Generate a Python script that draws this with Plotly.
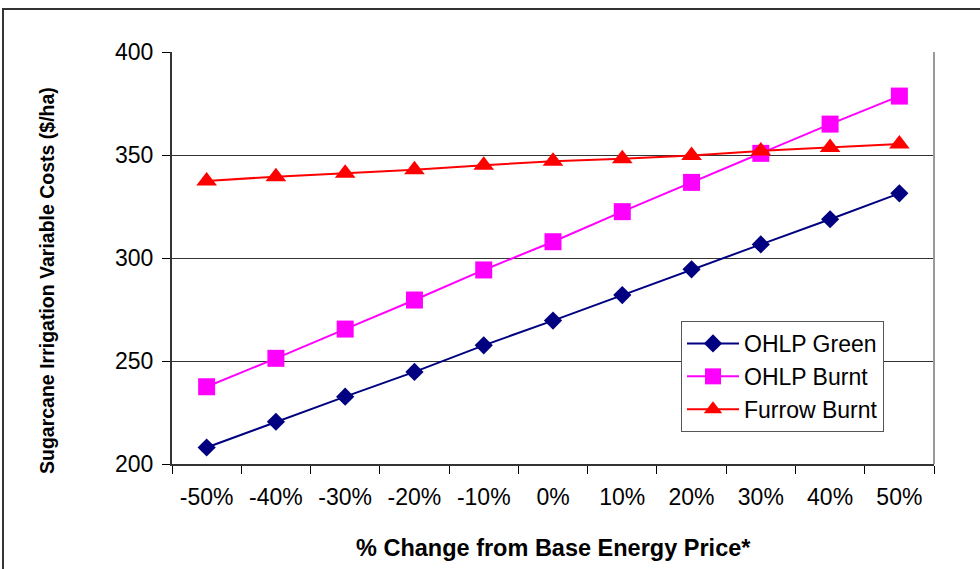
import plotly.graph_objects as go

# Energy price scenarios (category axis)
price_change = ["-50%", "-40%", "-30%", "-20%", "-10%", "0%",
                "10%", "20%", "30%", "40%", "50%"]

# Irrigation variable costs ($/ha) per system
ohlp_green = [208, 220.5, 232.7, 244.7, 257.6, 269.6, 282, 294.5, 306.6, 318.8, 331.4]
ohlp_burnt = [237.5, 251.3, 265.5, 279.6, 294.2, 307.9, 322.5, 336.7, 350.8, 365, 378.6]
furrow_burnt = [337.4, 339.5, 341.1, 342.8, 345, 347, 348.2, 349.8, 352, 353.7, 355.3]

y_ticks = [200, 250, 300, 350, 400]

W, H = 980, 569
M_L, M_R, M_T, M_B = 172, 46, 52, 105
PW, PH = W - M_L - M_R, H - M_T - M_B
FONT = "Liberation Sans, Arial, sans-serif"


def px_x(px):
    """Horizontal page pixel -> paper coordinate."""
    return (px - M_L) / PW


def px_y(py):
    """Vertical page pixel (from top) -> paper coordinate."""
    return (H - M_B - py) / PH


fig = go.Figure()

series = [
    ("OHLP Green", ohlp_green, "#000080", "diamond", 14),
    ("OHLP Burnt", ohlp_burnt, "#FF00FF", "square", 17),
    ("Furrow Burnt", furrow_burnt, "#FF0000", "triangle-up", 18),
]
for name, vals, color, symbol, size in series:
    fig.add_trace(go.Scatter(
        x=price_change, y=vals, name=name, mode="lines+markers",
        line=dict(color=color, width=2),
        marker=dict(symbol=symbol, size=size, color=color,
                    line=dict(width=0)),
    ))

fig.update_layout(
    width=W, height=H,
    margin=dict(l=M_L, r=M_R, t=M_T, b=M_B),
    paper_bgcolor="white", plot_bgcolor="white",
    font=dict(family=FONT, color="black", size=22),
    legend=dict(
        x=px_x(681), y=px_y(321), xanchor="left", yanchor="top",
        bgcolor="white", bordercolor="#555555", borderwidth=1,
        font=dict(size=23, family=FONT),
        tracegroupgap=0, itemwidth=52,
    ),
    showlegend=True,
)

fig.update_xaxes(
    type="category", range=[-0.5, len(price_change) - 0.5],
    tickson="boundaries",
    ticks="outside", ticklen=8, tickwidth=1, tickcolor="black",
    showline=True, linecolor="#333333", linewidth=2,
    showgrid=False, zeroline=False,
    tickfont=dict(size=23, family=FONT),
    ticklabelstandoff=11,
)
fig.update_yaxes(
    range=[200, 400], tickvals=y_ticks,
    ticks="outside", ticklen=8, tickwidth=1, tickcolor="black",
    showline=True, linecolor="#333333", linewidth=2,
    showgrid=True, gridcolor="#333333", gridwidth=1,
    zeroline=False,
    tickfont=dict(size=23, family=FONT),
    ticklabelstandoff=4,
)

# Axis titles
fig.add_annotation(
    text="<b>% Change from Base Energy Price*</b>",
    xref="paper", yref="paper", x=px_x(553), y=px_y(548),
    xanchor="center", yanchor="middle", showarrow=False,
    font=dict(size=23.5, family=FONT, color="black"),
)
fig.add_annotation(
    text="<b>Sugarcane Irrigation Variable Costs ($/ha)</b>",
    xref="paper", yref="paper", x=px_x(47), y=px_y(281),
    xanchor="center", yanchor="middle", textangle=-90, showarrow=False,
    font=dict(size=19.5, family=FONT, color="black"),
)

# Right edge of plot area and outer chart frame
fig.add_shape(type="line", xref="paper", yref="paper",
              x0=1, x1=1, y0=0, y1=1,
              line=dict(color="#999999", width=2))
fig.add_shape(type="rect", xref="paper", yref="paper",
              x0=px_x(3), x1=px_x(995), y0=px_y(590), y1=px_y(9),
              line=dict(color="#333333", width=2), layer="below")

fig.write_html("out.html")
